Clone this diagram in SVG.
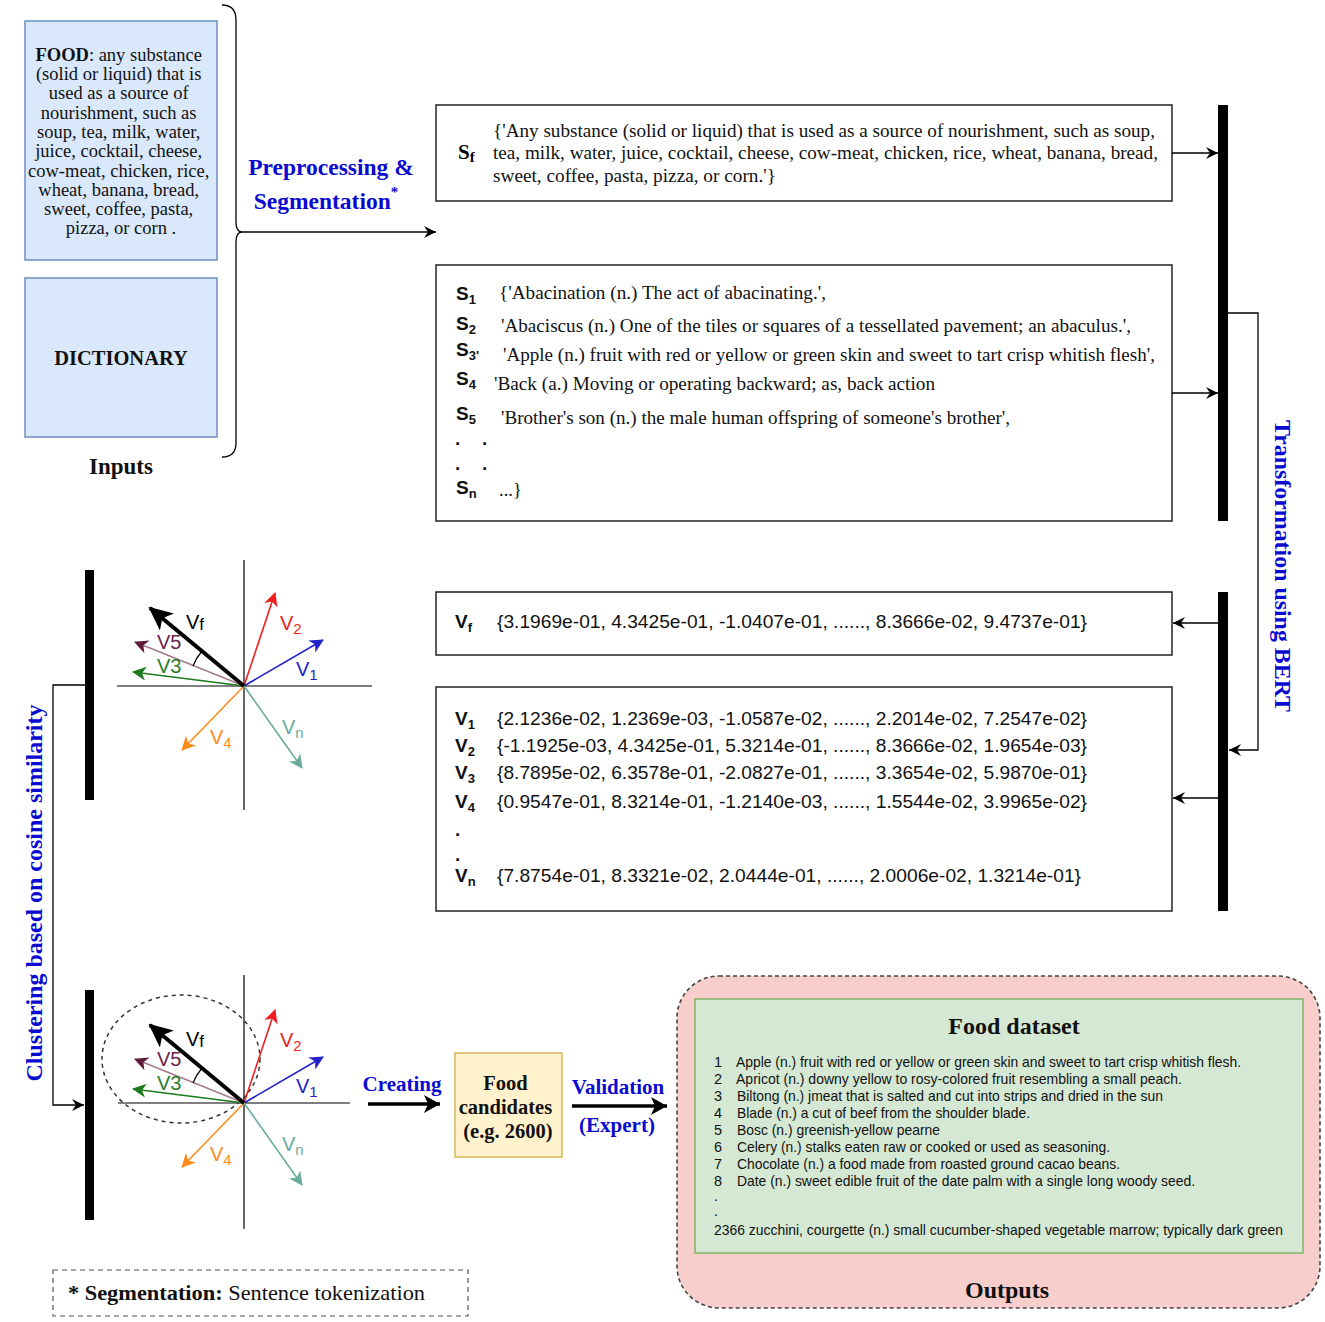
<svg xmlns="http://www.w3.org/2000/svg" width="1325" height="1322" viewBox="0 0 1325 1322">
<style>
.serif{font-family:"Liberation Serif","Times New Roman",serif;}
.sans{font-family:"Liberation Sans",Arial,sans-serif;}
.blue{fill:#0a0ad0;font-weight:bold;}
.box{fill:#fff;stroke:#222;stroke-width:1.5;}
.bar{fill:#000;}
.conn{fill:none;stroke:#000;stroke-width:1.3;}
.lbl{font-family:"Liberation Sans",Arial,sans-serif;font-size:20px;}
.sub{font-size:15px;}
.ds{font-family:"Liberation Sans",Arial,sans-serif;font-size:14.5px;fill:#111;}
</style>
<defs>
<marker id="ah" markerUnits="userSpaceOnUse" markerWidth="14" markerHeight="12" refX="12" refY="6" orient="auto"><path d="M0,0 L12,6 L0,12 L4,6 Z" fill="#000"/></marker>
<marker id="ahBig" markerUnits="userSpaceOnUse" markerWidth="18" markerHeight="18" refX="16" refY="9" orient="auto"><path d="M0,0 L16,9 L0,18 L4,9 Z" fill="#000"/></marker>
<marker id="mVf" markerUnits="userSpaceOnUse" markerWidth="26" markerHeight="22" refX="22" refY="11" orient="auto"><path d="M0,0 L24,11 L0,22 L6,11 Z" fill="#000"/></marker>
<marker id="mV1" markerUnits="userSpaceOnUse" markerWidth="16" markerHeight="14" refX="13" refY="7" orient="auto"><path d="M0,0 L14,7 L0,14 L4,7 Z" fill="#2323c8"/></marker>
<marker id="mV2" markerUnits="userSpaceOnUse" markerWidth="16" markerHeight="14" refX="13" refY="7" orient="auto"><path d="M0,0 L14,7 L0,14 L4,7 Z" fill="#f01e1e"/></marker>
<marker id="mV3" markerUnits="userSpaceOnUse" markerWidth="16" markerHeight="14" refX="13" refY="7" orient="auto"><path d="M0,0 L14,7 L0,14 L4,7 Z" fill="#1d7a1d"/></marker>
<marker id="mV4" markerUnits="userSpaceOnUse" markerWidth="16" markerHeight="14" refX="13" refY="7" orient="auto"><path d="M0,0 L14,7 L0,14 L4,7 Z" fill="#ff8a1c"/></marker>
<marker id="mV5" markerUnits="userSpaceOnUse" markerWidth="16" markerHeight="14" refX="13" refY="7" orient="auto"><path d="M0,0 L14,7 L0,14 L4,7 Z" fill="#5e1a38"/></marker>
<marker id="mVn" markerUnits="userSpaceOnUse" markerWidth="16" markerHeight="14" refX="13" refY="7" orient="auto"><path d="M0,0 L14,7 L0,14 L4,7 Z" fill="#6aab9c"/></marker>
<g id="vecs">
<line x1="0" y1="0" x2="31" y2="-93" stroke="#f01e1e" stroke-width="1.6" marker-end="url(#mV2)"/>
<line x1="0" y1="0" x2="79" y2="-46" stroke="#2323c8" stroke-width="1.6" marker-end="url(#mV1)"/>
<line x1="0" y1="0" x2="58" y2="82" stroke="#6aab9c" stroke-width="1.6" marker-end="url(#mVn)"/>
<line x1="0" y1="0" x2="-62" y2="64" stroke="#ff8a1c" stroke-width="1.6" marker-end="url(#mV4)"/>
<line x1="0" y1="0" x2="-111" y2="-14" stroke="#1d7a1d" stroke-width="1.6" marker-end="url(#mV3)"/>
<line x1="0" y1="0" x2="-109" y2="-44" stroke="#a57c8c" stroke-width="1.6" marker-end="url(#mV5)"/>
<line x1="0" y1="0" x2="-94" y2="-78" stroke="#000" stroke-width="4" marker-end="url(#mVf)"/>
<path d="M-51,-20 A55,55 0 0 1 -42,-35" fill="none" stroke="#000" stroke-width="1.2"/>
<text class="lbl" x="-58" y="-57" fill="#000">V<tspan font-size="17" dy="1">f</tspan></text>
<text class="lbl" x="-87" y="-37" fill="#6b2448">V5</text>
<text class="lbl" x="-87" y="-13" fill="#2d7d2d">V3</text>
<text class="lbl" x="36" y="-56" fill="#f01e1e">V<tspan class="sub" dy="4">2</tspan></text>
<text class="lbl" x="52" y="-10" fill="#2323c8">V<tspan class="sub" dy="4">1</tspan></text>
<text class="lbl" x="38" y="48" fill="#6aab9c">V<tspan class="sub" dy="4">n</tspan></text>
<text class="lbl" x="-34" y="58" fill="#ff8a1c">V<tspan class="sub" dy="4">4</tspan></text>
</g>
</defs>

<g id="inputs">
<rect x="25" y="21" width="192" height="239" fill="#dae8fc" stroke="#6c8ebf" stroke-width="1.5"/>
<text class="serif" font-size="18.5" text-anchor="middle" fill="#111">
<tspan x="121" y="61"><tspan font-weight="bold">FOOD</tspan>: any substance</tspan>
<tspan x="121" y="80">(solid or liquid) that is</tspan>
<tspan x="121" y="99">used as a source of</tspan>
<tspan x="121" y="119">nourishment, such as</tspan>
<tspan x="121" y="138">soup, tea, milk, water,</tspan>
<tspan x="121" y="157">juice, cocktail, cheese,</tspan>
<tspan x="121" y="177">cow-meat, chicken, rice,</tspan>
<tspan x="121" y="196">wheat, banana, bread,</tspan>
<tspan x="121" y="215">sweet, coffee, pasta,</tspan>
<tspan x="121" y="234">pizza, or corn .</tspan>
</text>
</g>
<g id="dictionary">
<rect x="25" y="278" width="192" height="159" fill="#dae8fc" stroke="#6c8ebf" stroke-width="1.5"/>
<text class="serif" font-size="20.5" font-weight="bold" text-anchor="middle" x="121" y="365" fill="#111">DICTIONARY</text>
</g>
<text class="serif" font-size="23" font-weight="bold" text-anchor="middle" x="121" y="474" fill="#111">Inputs</text>

<g id="sf-box">
<rect class="box" x="436" y="105" width="736" height="96"/>
<text class="serif" font-size="21" font-weight="bold" x="458" y="159">S<tspan font-size="15" dy="3">f</tspan></text>
<text class="serif" font-size="18" fill="#111">
<tspan x="493" y="137" textLength="662" lengthAdjust="spacingAndGlyphs">{'Any substance (solid or liquid) that is used as a source of nourishment, such as soup,</tspan>
<tspan x="493" y="159" textLength="665" lengthAdjust="spacingAndGlyphs">tea, milk, water, juice, cocktail, cheese, cow-meat, chicken, rice, wheat, banana, bread,</tspan>
<tspan x="493" y="182" textLength="283" lengthAdjust="spacingAndGlyphs">sweet, coffee, pasta, pizza, or corn.'}</tspan>
</text>
</g>

<g id="s-box">
<rect class="box" x="436" y="265" width="736" height="256"/>
<g class="sans" font-size="19" font-weight="bold" fill="#111">
<text x="456" y="300">S<tspan font-size="13" dy="4">1</tspan></text>
<text x="456" y="330">S<tspan font-size="13" dy="4">2</tspan></text>
<text x="456" y="356">S<tspan font-size="13" dy="4">3'</tspan></text>
<text x="456" y="385">S<tspan font-size="13" dy="4">4</tspan></text>
<text x="456" y="420">S<tspan font-size="13" dy="4">5</tspan></text>
<text x="455" y="445">.</text><text x="482" y="445">.</text>
<text x="455" y="470">.</text><text x="482" y="470">.</text>
<text x="456" y="494">S<tspan font-size="13" dy="4">n</tspan></text>
</g>
<g class="serif" font-size="18.5" fill="#111">
<text x="499" y="299" textLength="327" lengthAdjust="spacingAndGlyphs">{'Abacination (n.) The act of abacinating.',</text>
<text x="501" y="332" textLength="630" lengthAdjust="spacingAndGlyphs">'Abaciscus (n.) One of the tiles or squares of a tessellated pavement; an abaculus.',</text>
<text x="503" y="361" textLength="652" lengthAdjust="spacingAndGlyphs">'Apple (n.) fruit with red or yellow or green skin and sweet to tart crisp whitish flesh',</text>
<text x="494" y="390" textLength="441" lengthAdjust="spacingAndGlyphs">'Back (a.) Moving or operating backward; as, back action</text>
<text x="501" y="424" textLength="509" lengthAdjust="spacingAndGlyphs">'Brother's son (n.) the male human offspring of someone's brother',</text>
<text x="499" y="496">...}</text>
</g>
</g>

<g id="vf-box">
<rect class="box" x="436" y="592" width="736" height="63"/>
<text class="sans" font-size="19" font-weight="bold" x="455" y="628" fill="#111">V<tspan font-size="13" dy="4">f</tspan></text>
<text class="sans" font-size="18.5" x="497" y="628" textLength="590" lengthAdjust="spacingAndGlyphs" fill="#111">{3.1969e-01, 4.3425e-01, -1.0407e-01, ......, 8.3666e-02, 9.4737e-01}</text>
</g>

<g id="v-box">
<rect class="box" x="436" y="687" width="736" height="224"/>
<g class="sans" font-size="19" font-weight="bold" fill="#111">
<text x="455" y="725">V<tspan font-size="13" dy="4">1</tspan></text>
<text x="455" y="752">V<tspan font-size="13" dy="4">2</tspan></text>
<text x="455" y="779">V<tspan font-size="13" dy="4">3</tspan></text>
<text x="455" y="808">V<tspan font-size="13" dy="4">4</tspan></text>
<text x="455" y="836">.</text>
<text x="455" y="861">.</text>
<text x="455" y="882">V<tspan font-size="13" dy="4">n</tspan></text>
</g>
<g class="sans" font-size="18.5" fill="#111">
<text x="497" y="725" textLength="590" lengthAdjust="spacingAndGlyphs">{2.1236e-02, 1.2369e-03, -1.0587e-02, ......, 2.2014e-02, 7.2547e-02}</text>
<text x="497" y="752" textLength="590" lengthAdjust="spacingAndGlyphs">{-1.1925e-03, 4.3425e-01, 5.3214e-01, ......, 8.3666e-02, 1.9654e-03}</text>
<text x="497" y="779" textLength="590" lengthAdjust="spacingAndGlyphs">{8.7895e-02, 6.3578e-01, -2.0827e-01, ......, 3.3654e-02, 5.9870e-01}</text>
<text x="497" y="808" textLength="590" lengthAdjust="spacingAndGlyphs">{0.9547e-01, 8.3214e-01, -1.2140e-03, ......, 1.5544e-02, 3.9965e-02}</text>
<text x="497" y="882" textLength="584" lengthAdjust="spacingAndGlyphs">{7.8754e-01, 8.3321e-02, 2.0444e-01, ......, 2.0006e-02, 1.3214e-01}</text>
</g>
</g>

<g id="bars">
<rect class="bar" x="1218" y="105" width="10" height="416"/>
<rect class="bar" x="1218" y="592" width="10" height="319"/>
<rect class="bar" x="85" y="570" width="9" height="230"/>
<rect class="bar" x="85" y="990" width="9" height="230"/>
</g>

<g id="vector-top">
<line x1="244" y1="560" x2="244" y2="810" stroke="#000" stroke-width="1.2"/>
<line x1="117" y1="686" x2="372" y2="686" stroke="#000" stroke-width="1.2"/>
<use href="#vecs" x="244" y="686"/>
</g>

<g id="vector-bottom">
<line x1="244" y1="975" x2="244" y2="1229" stroke="#000" stroke-width="1.2"/>
<line x1="118" y1="1103" x2="350" y2="1103" stroke="#000" stroke-width="1.2"/>
<ellipse cx="181" cy="1059" rx="79" ry="64" fill="none" stroke="#333" stroke-width="1.5" stroke-dasharray="4,4"/>
<use href="#vecs" x="244" y="1103"/>
</g>

<g id="food-candidates">
<rect x="455" y="1053" width="107" height="104" fill="#fff2cc" stroke="#d6b656" stroke-width="1.5"/>
<text class="serif" font-size="20.5" font-weight="bold" text-anchor="middle" fill="#111">
<tspan x="508" y="1090">Food</tspan>
<tspan x="508" y="1114">candidates</tspan>
<tspan x="508" y="1138">(e.g. 2600)</tspan>
</text>
</g>

<g id="outputs">
<rect x="677" y="976" width="643" height="332" rx="42" ry="42" fill="#f8cecc" stroke="#444" stroke-width="1.6" stroke-dasharray="4,3"/>
<rect x="695" y="999" width="608" height="254" fill="#d5e8d4" stroke="#82b366" stroke-width="1.5"/>
<text class="serif" font-size="24" font-weight="bold" text-anchor="middle" x="1014" y="1034" fill="#111">Food dataset</text>
<g class="ds">
<text x="714" y="1067">1</text><text x="736" y="1067" textLength="505" lengthAdjust="spacingAndGlyphs">Apple (n.) fruit with red or yellow or green skin and sweet to tart crisp whitish flesh.</text>
<text x="714" y="1084">2</text><text x="736" y="1084" textLength="446" lengthAdjust="spacingAndGlyphs">Apricot (n.)  downy yellow to rosy-colored fruit resembling a small peach.</text>
<text x="714" y="1101">3</text><text x="737" y="1101" textLength="426" lengthAdjust="spacingAndGlyphs">Biltong (n.) jmeat that is salted and cut into strips and dried in the sun</text>
<text x="714" y="1118">4</text><text x="737" y="1118" textLength="293" lengthAdjust="spacingAndGlyphs">Blade (n.) a cut of beef from the shoulder blade.</text>
<text x="714" y="1135">5</text><text x="737" y="1135" textLength="203" lengthAdjust="spacingAndGlyphs">Bosc (n.) greenish-yellow pearne</text>
<text x="714" y="1152">6</text><text x="737" y="1152" textLength="373" lengthAdjust="spacingAndGlyphs">Celery (n.) stalks eaten raw or cooked or used as seasoning.</text>
<text x="714" y="1169">7</text><text x="737" y="1169" textLength="383" lengthAdjust="spacingAndGlyphs">Chocolate (n.) a food made from roasted ground cacao beans.</text>
<text x="714" y="1186">8</text><text x="737" y="1186" textLength="458" lengthAdjust="spacingAndGlyphs">Date (n.) sweet edible fruit of the date palm with a single long woody seed.</text>
<text x="714" y="1201">.</text>
<text x="714" y="1216">.</text>
<text x="714" y="1235" textLength="569" lengthAdjust="spacingAndGlyphs">2366 zucchini, courgette (n.) small cucumber-shaped vegetable marrow; typically dark green</text>
</g>
<text class="serif" font-size="24" font-weight="bold" text-anchor="middle" x="1007" y="1298" fill="#111">Outputs</text>
</g>

<g id="note">
<rect x="53" y="1270" width="415" height="46" fill="none" stroke="#555" stroke-width="1.2" stroke-dasharray="5,4"/>
<text class="serif" font-size="22" x="68" y="1300" fill="#111" textLength="357" lengthAdjust="spacingAndGlyphs"><tspan font-weight="bold">* Segmentation:</tspan> Sentence tokenization</text>
</g>

<g id="connectors">
<path class="conn" d="M222,5 Q236,5 236,20 L236,222 Q236,232 242,232 Q236,232 236,242 L236,443 Q236,457 222,457"/>
<line class="conn" x1="242" y1="232" x2="436" y2="232" marker-end="url(#ah)"/>
<line class="conn" x1="1172" y1="153" x2="1218" y2="153" marker-end="url(#ah)"/>
<line class="conn" x1="1172" y1="393" x2="1218" y2="393" marker-end="url(#ah)"/>
<path class="conn" d="M1228,313 L1258,313 L1258,750 L1229,750" marker-end="url(#ah)"/>
<line class="conn" x1="1218" y1="623" x2="1173" y2="623" marker-end="url(#ah)"/>
<line class="conn" x1="1218" y1="798" x2="1173" y2="798" marker-end="url(#ah)"/>
<path class="conn" d="M85,685 L53,685 L53,1105 L84,1105" marker-end="url(#ah)"/>
<line x1="368" y1="1104" x2="440" y2="1104" stroke="#000" stroke-width="3.5" marker-end="url(#ahBig)"/>
<line x1="572" y1="1106" x2="667" y2="1106" stroke="#000" stroke-width="3.5" marker-end="url(#ahBig)"/>
</g>

<g id="labels">
<text class="serif blue" font-size="23.5" text-anchor="middle" x="331" y="175">Preprocessing &amp;</text>
<text class="serif blue" font-size="23.5" text-anchor="middle" x="326" y="209">Segmentation<tspan font-size="15" dy="-12">*</tspan></text>
<text class="serif blue" font-size="23" text-anchor="middle" transform="translate(1275,566) rotate(90)" textLength="292" lengthAdjust="spacingAndGlyphs">Transformation using BERT</text>
<text class="serif blue" font-size="23" text-anchor="middle" transform="translate(42,893) rotate(-90)" textLength="377" lengthAdjust="spacingAndGlyphs">Clustering based on cosine similarity</text>
<text class="serif blue" font-size="21" text-anchor="middle" x="402" y="1091">Creating</text>
<text class="serif blue" font-size="21" text-anchor="middle" x="618" y="1094">Validation</text>
<text class="serif blue" font-size="21" text-anchor="middle" x="617" y="1132">(Expert)</text>
</g>
</svg>
